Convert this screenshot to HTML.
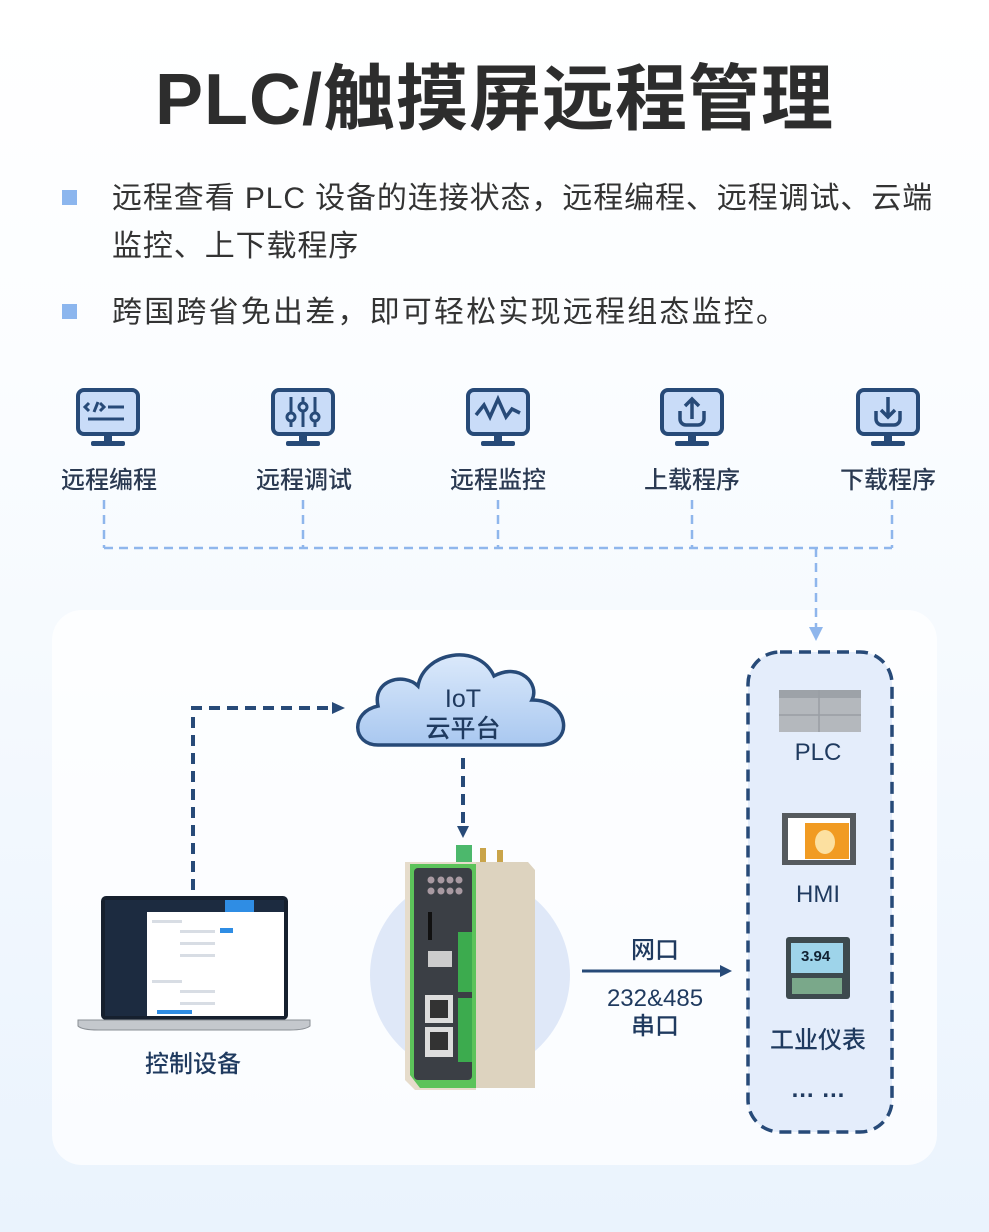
<!DOCTYPE html>
<html><head><meta charset="utf-8"><style>
*{margin:0;padding:0;box-sizing:border-box}
body{width:989px;height:1232px;overflow:hidden;position:relative;font-family:"Liberation Sans","Noto Sans CJK SC",sans-serif;background:linear-gradient(#ffffff 0%,#fbfdff 30%,#eaf3fd 100%)}
.t{position:absolute;white-space:nowrap}
.lab{font-size:24px;color:#2b3a52;font-weight:500;transform:translateX(-50%)}
.dl{font-size:24px;color:#1f3a5f;font-weight:500;transform:translateX(-50%);text-align:center}
</style></head><body>
<div class="t" style="left:0;width:989px;text-align:center;top:40px;font-size:72px;font-weight:700;color:#2d2d2d;letter-spacing:1px">PLC/触摸屏远程管理</div>
<div style="position:absolute;left:62px;top:190px;width:15px;height:15px;background:#8cb6ee"></div>
<div style="position:absolute;left:62px;top:304px;width:15px;height:15px;background:#8cb6ee"></div>
<div class="t" style="left:112px;top:175px;font-size:30px;letter-spacing:0.9px;color:#333;line-height:48px">远程查看 PLC 设备的连接状态，远程编程、远程调试、云端<br>监控、上下载程序</div>
<div class="t" style="left:112px;top:289px;font-size:30px;letter-spacing:2.2px;color:#333;line-height:48px">跨国跨省免出差，即可轻松实现远程组态监控。</div>

<div style="position:absolute;left:52px;top:610px;width:885px;height:555px;border-radius:30px;background:rgba(255,255,255,0.75)"></div>

<svg style="position:absolute;left:0;top:0" width="989" height="1232">
<defs>
<linearGradient id="cg" x1="0" y1="0" x2="0" y2="1"><stop offset="0" stop-color="#dbe9fb"/><stop offset="1" stop-color="#a9c8f0"/></linearGradient>
<g id="mon"><rect x="-30" y="-33" width="60" height="44" rx="6" fill="#c9dcf8" stroke="#274a78" stroke-width="4"/><rect x="-4" y="11" width="8" height="8" fill="#274a78"/><rect x="-17" y="18" width="34" height="5" rx="2" fill="#274a78"/></g>
</defs>
<g transform="translate(108,423)"><use href="#mon"/><path d="M-19,-20 l-4,4 4,4 M-14,-11 l4,-10 M-8,-20 l4,4 -4,4 M0,-16 h16 M-20,-4 h36" stroke="#274a78" stroke-width="3" fill="none"/></g>
<g transform="translate(303,423)"><use href="#mon"/><path d="M-12,-26 v30 M0,-26 v30 M12,-26 v30" stroke="#274a78" stroke-width="3"/><circle cx="-12" cy="-6" r="4" fill="#c9dcf8" stroke="#274a78" stroke-width="3"/><circle cx="0" cy="-16" r="4" fill="#c9dcf8" stroke="#274a78" stroke-width="3"/><circle cx="12" cy="-6" r="4" fill="#c9dcf8" stroke="#274a78" stroke-width="3"/></g>
<g transform="translate(498,423)"><use href="#mon"/><path d="M-22,-8 l8,-10 6,12 8,-18 8,18 6,-8 8,4" stroke="#274a78" stroke-width="3.5" fill="none"/></g>
<g transform="translate(692,423)"><use href="#mon"/><path d="M0,-4 v-20 M-7,-17 l7,-7 7,7 M-12,-12 v8 a6,6 0 0 0 6,6 h12 a6,6 0 0 0 6,-6 v-8" stroke="#274a78" stroke-width="3.5" fill="none"/></g>
<g transform="translate(888,423)"><use href="#mon"/><path d="M0,-26 v20 M-7,-13 l7,7 7,-7 M-12,-12 v8 a6,6 0 0 0 6,6 h12 a6,6 0 0 0 6,-6 v-8" stroke="#274a78" stroke-width="3.5" fill="none"/></g>
<g stroke="#8fb6ec" stroke-width="2.5" stroke-dasharray="9,6" fill="none">
<path d="M104,500 V548 M303,500 V548 M498,500 V548 M692,500 V548 M892,500 V548 M104,548 H892 M816,548 V628"/>
</g>
<path d="M809,627 h14 l-7,14 z" fill="#8fb6ec"/>
<rect x="748" y="652" width="144" height="480" rx="32" fill="#e4edfb" stroke="#274a78" stroke-width="3.5" stroke-dasharray="12,7"/>
<circle cx="470" cy="975" r="100" fill="#dfe8f8"/>
<g stroke="#274a78" stroke-width="4" stroke-dasharray="11,7" fill="none">
<path d="M193,890 V708 H330"/><path d="M463,758 V826"/>
</g>
<path d="M332,702 l13,6 -13,6 z" fill="#274a78"/>
<path d="M457,826 h12 l-6,12 z" fill="#274a78"/>
<path d="M582,971 H722" stroke="#274a78" stroke-width="3"/><path d="M720,965 l12,6 -12,6 z" fill="#274a78"/>
<path d="M378,745 C352,745 350,712 378,706 C372,680 404,672 418,686 C424,652 478,642 494,676 C520,662 540,684 532,700 C570,700 575,745 540,745 Z" fill="url(#cg)" stroke="#274a78" stroke-width="3.5"/>
<rect x="101" y="896" width="187" height="124" rx="5" fill="#16202e"/>
<rect x="105" y="900" width="179" height="116" fill="#fff"/>
<rect x="105" y="900" width="179" height="12" fill="#1c2b40"/>
<rect x="225" y="900" width="29" height="12" fill="#2f8de4"/>
<rect x="105" y="912" width="42" height="104" fill="#1c2b40"/>
<g fill="#d8dde4"><rect x="152" y="920" width="30" height="3"/><rect x="180" y="930" width="35" height="3"/><rect x="180" y="942" width="35" height="3"/><rect x="180" y="954" width="35" height="3"/><rect x="152" y="980" width="30" height="3"/><rect x="180" y="990" width="35" height="3"/><rect x="180" y="1002" width="35" height="3"/></g>
<rect x="220" y="928" width="13" height="5" fill="#2f8de4"/>
<rect x="157" y="1010" width="18" height="4" fill="#2f8de4"/><rect x="172" y="1010" width="20" height="4" fill="#2f8de4"/>
<path d="M78,1020 H310 V1026 Q305,1030 290,1030 H98 Q82,1030 78,1026 Z" fill="#c4c8cd" stroke="#8a8f95" stroke-width="1"/>
<rect x="456" y="845" width="16" height="18" fill="#4cb86c"/>
<rect x="480" y="848" width="6" height="15" fill="#c9a44a"/><rect x="497" y="850" width="6" height="13" fill="#c9a44a"/>
<path d="M470,862 H528 L535,870 V1088 H470 Z" fill="#ddd3bf"/>
<path d="M405,862 H476 V1090 H415 L405,1080 Z" fill="#e6dccb"/>
<path d="M410,864 H476 V1088 H420 L410,1075 Z" fill="#5cc35a"/>
<rect x="414" y="868" width="58" height="212" rx="4" fill="#3b3f45"/>
<g fill="#a99aa2"><circle cx="431" cy="880" r="3.5"/><circle cx="441" cy="880" r="3.5"/><circle cx="450" cy="880" r="3.5"/><circle cx="459" cy="880" r="3.5"/><circle cx="431" cy="891" r="3.5"/><circle cx="441" cy="891" r="3.5"/><circle cx="450" cy="891" r="3.5"/><circle cx="459" cy="891" r="3.5"/></g>
<rect x="428" y="912" width="4" height="28" fill="#111"/>
<rect x="428" y="951" width="24" height="16" fill="#ccc"/>
<rect x="425" y="995" width="28" height="28" fill="#ddd"/><rect x="430" y="1000" width="18" height="18" fill="#333"/>
<rect x="425" y="1027" width="28" height="30" fill="#ddd"/><rect x="430" y="1032" width="18" height="18" fill="#333"/>
<rect x="458" y="932" width="14" height="60" fill="#3cab4e"/>
<rect x="458" y="998" width="14" height="64" fill="#3cab4e"/>
<rect x="779" y="690" width="82" height="42" fill="#b4b8bd"/>
<rect x="779" y="690" width="82" height="8" fill="#9da2a8"/>
<path d="M779,715 H861 M819,690 V732" stroke="#999ea4" stroke-width="1.5"/>
<rect x="782" y="813" width="74" height="52" fill="#555a5e"/>
<rect x="788" y="818" width="62" height="42" fill="#fff"/>
<rect x="805" y="823" width="44" height="36" fill="#f19b22"/>
<ellipse cx="825" cy="842" rx="10" ry="12" fill="#fce0a0"/>
<rect x="786" y="937" width="64" height="62" rx="3" fill="#3d4a4e"/>
<rect x="791" y="943" width="52" height="30" fill="#9ed4ea"/>
<rect x="792" y="978" width="50" height="16" fill="#7aa88a"/>
</svg>

<div class="t lab" style="left:109px;top:460px">远程编程</div>
<div class="t lab" style="left:304px;top:460px">远程调试</div>
<div class="t lab" style="left:498px;top:460px">远程监控</div>
<div class="t lab" style="left:692px;top:460px">上载程序</div>
<div class="t lab" style="left:888px;top:460px">下载程序</div>

<div class="t dl" style="left:463px;top:684px;line-height:30px;font-size:25px">IoT<br>云平台</div>
<div class="t" style="left:801px;top:948px;font-size:15px;font-weight:700;color:#123">3.94</div>
<div class="t dl" style="left:193px;top:1044px">控制设备</div>
<div class="t dl" style="left:655px;top:930px">网口</div>
<div class="t dl" style="left:655px;top:985px;line-height:28px">232&amp;485<br>串口</div>
<div class="t dl" style="left:818px;top:739px">PLC</div>
<div class="t dl" style="left:818px;top:881px">HMI</div>
<div class="t dl" style="left:818px;top:1020px">工业仪表</div>
<div class="t dl" style="left:818px;top:1076px;font-weight:700">… …</div>
</body></html>
